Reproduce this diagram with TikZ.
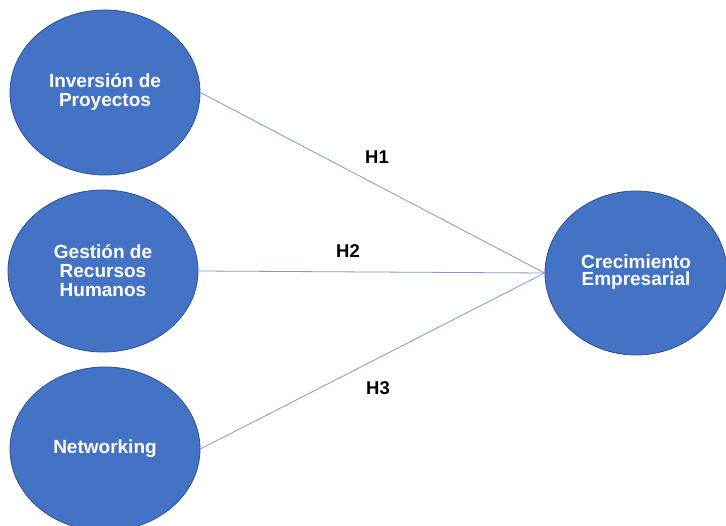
\documentclass[tikz,border=0pt]{standalone}
\usepackage{fontspec}
\setmainfont{Liberation Sans}
\usetikzlibrary{shapes.geometric}
\definecolor{ellfill}{RGB}{68,114,196}
\definecolor{elldraw}{RGB}{47,82,143}
\definecolor{linkcol}{RGB}{125,155,200}
\tikzset{
  construct/.style={ellipse, fill=ellfill, draw=elldraw, line width=0.8pt,
    inner sep=0pt, align=center, text=white,
    font=\fontsize{19}{19}\selectfont\bfseries},
  hyplabel/.style={font=\fontsize{18.5}{19}\selectfont\bfseries, text=black, inner sep=1pt},
  link/.style={draw=linkcol, line width=0.8pt}
}
\begin{document}
\begin{tikzpicture}[x=1pt,y=-1pt]
\clip (0,0) rectangle (726,526);
\fill[white] (0,0) rectangle (726,526);
\node[construct, minimum width=190pt, minimum height=165pt] (inv) at (105,92.5) {Inversión de\\Proyectos};
\node[construct, minimum width=190pt, minimum height=162pt] (ges) at (103,271) {Gestión de\\Recursos\\Humanos};
\node[construct, minimum width=190pt, minimum height=164pt] (net) at (105,449) {Networking};
\node[construct, minimum width=182pt, minimum height=164pt] (cre) at (636,273) {\raisebox{6pt}{\begin{tabular}{@{}c@{}}Crecimiento\\[-2pt]Empresarial\end{tabular}}};
\draw[link] (inv.east) -- (cre.west);
\draw[link] (ges.east) -- (cre.west);
\draw[link] (net.east) -- (cre.west);
\node[hyplabel] (h1) at (377,157) {H1};
\node[hyplabel] (h2) at (348,251) {H2};
\node[hyplabel] (h3) at (378,388) {H3};
\end{tikzpicture}
\end{document}
